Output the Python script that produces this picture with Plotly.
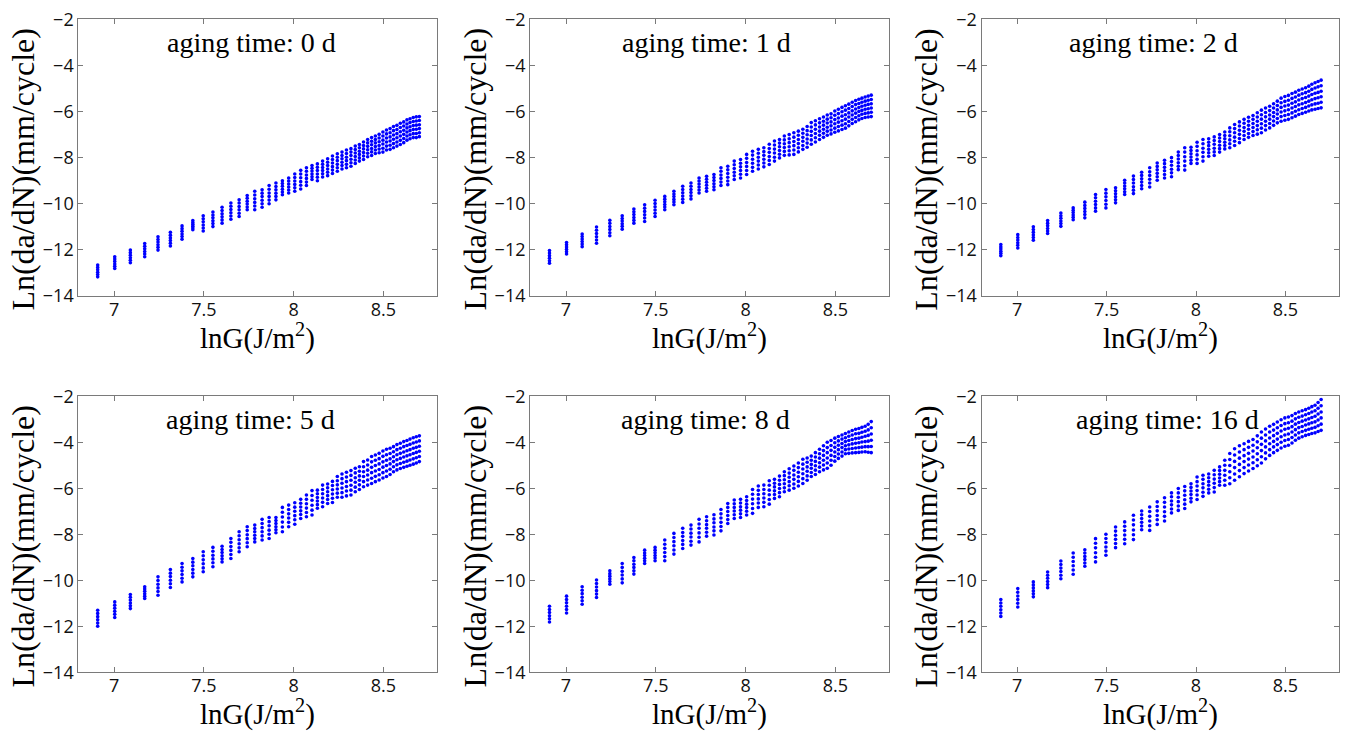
import plotly.graph_objects as go

# ---------------- data ----------------
lnG = [6.908, 7.003, 7.090, 7.170, 7.244, 7.313, 7.378, 7.438, 7.496, 7.550,
       7.601, 7.650, 7.696, 7.741, 7.783, 7.824, 7.863, 7.901, 7.937, 7.972,
       8.006, 8.039, 8.071, 8.102, 8.132, 8.161, 8.189, 8.216, 8.243, 8.269,
       8.294, 8.319, 8.343, 8.366, 8.389, 8.412, 8.434, 8.455, 8.476, 8.497,
       8.517, 8.537, 8.556, 8.575, 8.594, 8.613, 8.631, 8.648, 8.666, 8.683,
       8.700]

panel_titles = ["aging time: 0 d", "aging time: 1 d", "aging time: 2 d",
                "aging time: 5 d", "aging time: 8 d", "aging time: 16 d"]

y_0d = [
    [-12.66, -12.76, -12.86, -12.97, -13.07, -13.17],
    [-12.30, -12.40, -12.50, -12.61, -12.71, -12.81],
    [-12.01, -12.12, -12.23, -12.34, -12.45, -12.56],
    [-11.72, -11.84, -11.95, -12.07, -12.18, -12.30],
    [-11.43, -11.55, -11.66, -11.78, -11.89, -12.01],
    [-11.24, -11.36, -11.48, -11.59, -11.71, -11.83],
    [-10.96, -11.08, -11.19, -11.31, -11.42, -11.54],
    [-10.73, -10.81, -10.89, -10.97, -11.05, -11.13],
    [-10.52, -10.65, -10.78, -10.92, -11.05, -11.18],
    [-10.36, -10.49, -10.61, -10.74, -10.86, -10.99],
    [-10.15, -10.29, -10.43, -10.56, -10.70, -10.84],
    [-9.97, -10.11, -10.25, -10.39, -10.53, -10.67],
    [-9.83, -9.97, -10.12, -10.26, -10.41, -10.55],
    [-9.64, -9.76, -9.89, -10.01, -10.14, -10.26],
    [-9.46, -9.62, -9.78, -9.94, -10.10, -10.26],
    [-9.39, -9.54, -9.69, -9.85, -10.00, -10.15],
    [-9.21, -9.37, -9.53, -9.68, -9.84, -10.00],
    [-9.10, -9.25, -9.39, -9.54, -9.68, -9.83],
    [-9.00, -9.12, -9.24, -9.37, -9.49, -9.61],
    [-8.88, -9.01, -9.14, -9.27, -9.40, -9.53],
    [-8.71, -8.86, -9.01, -9.16, -9.31, -9.46],
    [-8.55, -8.71, -8.87, -9.04, -9.20, -9.36],
    [-8.44, -8.59, -8.75, -8.90, -9.06, -9.21],
    [-8.34, -8.46, -8.58, -8.71, -8.83, -8.95],
    [-8.27, -8.42, -8.56, -8.71, -8.85, -9.00],
    [-8.15, -8.29, -8.43, -8.56, -8.70, -8.84],
    [-8.05, -8.20, -8.34, -8.49, -8.63, -8.78],
    [-7.93, -8.08, -8.23, -8.39, -8.54, -8.69],
    [-7.83, -7.98, -8.13, -8.29, -8.44, -8.59],
    [-7.76, -7.91, -8.05, -8.20, -8.34, -8.49],
    [-7.67, -7.82, -7.98, -8.13, -8.29, -8.44],
    [-7.61, -7.76, -7.91, -8.07, -8.22, -8.37],
    [-7.50, -7.65, -7.80, -7.95, -8.10, -8.25],
    [-7.43, -7.57, -7.72, -7.86, -8.01, -8.15],
    [-7.32, -7.47, -7.62, -7.78, -7.93, -8.08],
    [-7.21, -7.36, -7.51, -7.66, -7.81, -7.96],
    [-7.13, -7.29, -7.44, -7.60, -7.75, -7.91],
    [-7.06, -7.21, -7.36, -7.52, -7.67, -7.82],
    [-6.99, -7.15, -7.31, -7.47, -7.63, -7.79],
    [-6.89, -7.06, -7.24, -7.41, -7.59, -7.76],
    [-6.80, -6.97, -7.15, -7.32, -7.50, -7.67],
    [-6.74, -6.92, -7.10, -7.28, -7.46, -7.64],
    [-6.65, -6.83, -7.02, -7.20, -7.39, -7.57],
    [-6.60, -6.78, -6.96, -7.14, -7.32, -7.50],
    [-6.51, -6.69, -6.88, -7.06, -7.25, -7.43],
    [-6.45, -6.63, -6.81, -6.99, -7.17, -7.35],
    [-6.36, -6.54, -6.71, -6.89, -7.06, -7.24],
    [-6.31, -6.48, -6.66, -6.83, -7.01, -7.18],
    [-6.26, -6.43, -6.61, -6.78, -6.96, -7.13],
    [-6.23, -6.41, -6.59, -6.77, -6.95, -7.13],
    [-6.22, -6.39, -6.57, -6.74, -6.92, -7.09],
]

y_1d = [
    [-12.03, -12.14, -12.25, -12.36, -12.47, -12.58],
    [-11.68, -11.78, -11.88, -11.98, -12.08, -12.18],
    [-11.31, -11.42, -11.53, -11.64, -11.75, -11.86],
    [-11.01, -11.15, -11.29, -11.43, -11.57, -11.71],
    [-10.72, -10.85, -10.99, -11.12, -11.26, -11.39],
    [-10.52, -10.64, -10.75, -10.87, -10.98, -11.10],
    [-10.23, -10.35, -10.47, -10.60, -10.72, -10.84],
    [-10.04, -10.19, -10.33, -10.48, -10.62, -10.77],
    [-9.85, -9.99, -10.13, -10.27, -10.41, -10.55],
    [-9.68, -9.80, -9.91, -10.03, -10.14, -10.26],
    [-9.46, -9.58, -9.69, -9.81, -9.92, -10.04],
    [-9.24, -9.38, -9.52, -9.66, -9.80, -9.94],
    [-9.10, -9.24, -9.38, -9.51, -9.65, -9.79],
    [-8.88, -9.01, -9.14, -9.27, -9.40, -9.53],
    [-8.81, -8.94, -9.07, -9.20, -9.33, -9.46],
    [-8.73, -8.86, -8.99, -9.13, -9.26, -9.39],
    [-8.44, -8.59, -8.75, -8.90, -9.06, -9.21],
    [-8.37, -8.53, -8.69, -8.85, -9.01, -9.17],
    [-8.15, -8.31, -8.47, -8.63, -8.79, -8.95],
    [-8.08, -8.24, -8.40, -8.56, -8.72, -8.88],
    [-7.86, -8.03, -8.21, -8.38, -8.56, -8.73],
    [-7.72, -7.89, -8.07, -8.24, -8.42, -8.59],
    [-7.64, -7.81, -7.98, -8.15, -8.32, -8.49],
    [-7.57, -7.74, -7.90, -8.07, -8.23, -8.40],
    [-7.42, -7.60, -7.77, -7.95, -8.12, -8.30],
    [-7.28, -7.45, -7.63, -7.80, -7.98, -8.15],
    [-7.21, -7.37, -7.53, -7.69, -7.85, -8.01],
    [-7.06, -7.23, -7.40, -7.56, -7.73, -7.90],
    [-7.00, -7.18, -7.35, -7.53, -7.70, -7.88],
    [-6.92, -7.11, -7.30, -7.48, -7.67, -7.86],
    [-6.85, -7.03, -7.21, -7.39, -7.57, -7.75],
    [-6.77, -6.94, -7.12, -7.29, -7.47, -7.64],
    [-6.65, -6.83, -7.01, -7.19, -7.37, -7.55],
    [-6.48, -6.67, -6.86, -7.04, -7.23, -7.42],
    [-6.40, -6.58, -6.77, -6.95, -7.14, -7.32],
    [-6.31, -6.49, -6.67, -6.85, -7.03, -7.21],
    [-6.24, -6.42, -6.59, -6.77, -6.94, -7.12],
    [-6.15, -6.33, -6.50, -6.68, -6.85, -7.03],
    [-6.10, -6.27, -6.45, -6.62, -6.80, -6.97],
    [-5.98, -6.16, -6.35, -6.53, -6.72, -6.90],
    [-5.90, -6.09, -6.28, -6.46, -6.65, -6.84],
    [-5.82, -6.01, -6.20, -6.40, -6.59, -6.78],
    [-5.75, -5.94, -6.14, -6.33, -6.53, -6.72],
    [-5.68, -5.87, -6.06, -6.24, -6.43, -6.62],
    [-5.60, -5.78, -5.97, -6.15, -6.34, -6.52],
    [-5.52, -5.70, -5.89, -6.07, -6.26, -6.44],
    [-5.47, -5.65, -5.83, -6.00, -6.18, -6.36],
    [-5.42, -5.60, -5.77, -5.95, -6.12, -6.30],
    [-5.37, -5.55, -5.73, -5.90, -6.08, -6.26],
    [-5.33, -5.51, -5.69, -5.88, -6.06, -6.24],
    [-5.29, -5.48, -5.66, -5.85, -6.03, -6.22],
]

y_2d = [
    [-11.77, -11.87, -11.96, -12.06, -12.15, -12.25],
    [-11.34, -11.46, -11.57, -11.69, -11.80, -11.92],
    [-11.00, -11.12, -11.23, -11.35, -11.46, -11.58],
    [-10.73, -10.84, -10.95, -11.07, -11.18, -11.29],
    [-10.40, -10.52, -10.63, -10.75, -10.86, -10.98],
    [-10.18, -10.28, -10.38, -10.49, -10.59, -10.69],
    [-9.93, -10.07, -10.20, -10.34, -10.47, -10.61],
    [-9.60, -9.74, -9.89, -10.03, -10.18, -10.32],
    [-9.38, -9.54, -9.70, -9.86, -10.02, -10.18],
    [-9.31, -9.44, -9.57, -9.70, -9.83, -9.96],
    [-8.98, -9.10, -9.23, -9.35, -9.48, -9.60],
    [-8.80, -8.95, -9.10, -9.26, -9.41, -9.56],
    [-8.63, -8.77, -8.92, -9.06, -9.21, -9.35],
    [-8.44, -8.61, -8.77, -8.94, -9.10, -9.27],
    [-8.23, -8.38, -8.53, -8.68, -8.83, -8.98],
    [-8.11, -8.26, -8.42, -8.57, -8.73, -8.88],
    [-8.00, -8.17, -8.33, -8.50, -8.66, -8.83],
    [-7.76, -7.91, -8.06, -8.22, -8.37, -8.52],
    [-7.57, -7.76, -7.96, -8.15, -8.35, -8.54],
    [-7.55, -7.69, -7.83, -7.97, -8.11, -8.25],
    [-7.33, -7.51, -7.70, -7.88, -8.07, -8.25],
    [-7.21, -7.40, -7.59, -7.77, -7.96, -8.15],
    [-7.18, -7.33, -7.48, -7.64, -7.79, -7.94],
    [-7.10, -7.26, -7.42, -7.59, -7.75, -7.91],
    [-7.00, -7.15, -7.30, -7.46, -7.61, -7.76],
    [-6.89, -7.04, -7.18, -7.33, -7.47, -7.62],
    [-6.71, -6.88, -7.05, -7.23, -7.40, -7.57],
    [-6.56, -6.74, -6.92, -7.11, -7.29, -7.47],
    [-6.45, -6.63, -6.81, -6.99, -7.17, -7.35],
    [-6.34, -6.51, -6.69, -6.86, -7.04, -7.21],
    [-6.25, -6.42, -6.60, -6.77, -6.95, -7.12],
    [-6.17, -6.34, -6.52, -6.69, -6.87, -7.04],
    [-6.05, -6.24, -6.42, -6.61, -6.79, -6.98],
    [-5.94, -6.14, -6.33, -6.53, -6.72, -6.92],
    [-5.85, -6.04, -6.23, -6.42, -6.61, -6.80],
    [-5.77, -5.96, -6.15, -6.33, -6.52, -6.71],
    [-5.66, -5.85, -6.04, -6.22, -6.41, -6.60],
    [-5.55, -5.74, -5.93, -6.11, -6.30, -6.49],
    [-5.42, -5.62, -5.82, -6.02, -6.22, -6.42],
    [-5.35, -5.56, -5.76, -5.97, -6.17, -6.38],
    [-5.30, -5.51, -5.72, -5.92, -6.13, -6.34],
    [-5.22, -5.43, -5.64, -5.85, -6.06, -6.27],
    [-5.16, -5.37, -5.58, -5.78, -5.99, -6.20],
    [-5.08, -5.29, -5.50, -5.71, -5.92, -6.13],
    [-5.02, -5.23, -5.44, -5.66, -5.87, -6.08],
    [-4.97, -5.18, -5.39, -5.61, -5.82, -6.03],
    [-4.90, -5.12, -5.33, -5.55, -5.76, -5.98],
    [-4.82, -5.04, -5.26, -5.49, -5.71, -5.93],
    [-4.75, -4.98, -5.21, -5.44, -5.67, -5.90],
    [-4.70, -4.93, -5.17, -5.40, -5.64, -5.87],
    [-4.64, -4.88, -5.12, -5.36, -5.60, -5.84],
]

y_5d = [
    [-11.30, -11.44, -11.58, -11.72, -11.86, -12.00],
    [-10.94, -11.08, -11.21, -11.35, -11.48, -11.62],
    [-10.62, -10.74, -10.86, -10.99, -11.11, -11.23],
    [-10.28, -10.38, -10.48, -10.59, -10.69, -10.79],
    [-9.85, -10.01, -10.17, -10.33, -10.49, -10.65],
    [-9.53, -9.69, -9.84, -10.00, -10.15, -10.31],
    [-9.27, -9.43, -9.59, -9.75, -9.91, -10.07],
    [-9.05, -9.21, -9.37, -9.53, -9.69, -9.85],
    [-8.76, -8.93, -9.11, -9.28, -9.46, -9.63],
    [-8.57, -8.74, -8.91, -9.07, -9.24, -9.41],
    [-8.52, -8.66, -8.79, -8.93, -9.06, -9.20],
    [-8.18, -8.35, -8.53, -8.70, -8.88, -9.05],
    [-7.89, -8.06, -8.24, -8.41, -8.59, -8.76],
    [-7.67, -7.84, -8.02, -8.19, -8.37, -8.54],
    [-7.60, -7.75, -7.89, -8.04, -8.18, -8.33],
    [-7.35, -7.53, -7.71, -7.89, -8.07, -8.25],
    [-7.27, -7.45, -7.63, -7.82, -8.00, -8.18],
    [-7.27, -7.40, -7.53, -7.67, -7.80, -7.93],
    [-6.83, -7.04, -7.25, -7.47, -7.68, -7.89],
    [-6.73, -6.92, -7.11, -7.29, -7.48, -7.67],
    [-6.63, -6.82, -7.00, -7.19, -7.37, -7.56],
    [-6.48, -6.65, -6.81, -6.98, -7.14, -7.31],
    [-6.29, -6.48, -6.67, -6.86, -7.05, -7.24],
    [-6.10, -6.31, -6.52, -6.74, -6.95, -7.16],
    [-6.08, -6.24, -6.40, -6.55, -6.71, -6.87],
    [-5.86, -6.05, -6.24, -6.42, -6.61, -6.80],
    [-5.81, -5.98, -6.15, -6.32, -6.49, -6.66],
    [-5.70, -5.88, -6.06, -6.25, -6.43, -6.62],
    [-5.49, -5.67, -5.85, -6.03, -6.21, -6.39],
    [-5.38, -5.58, -5.78, -5.99, -6.19, -6.39],
    [-5.30, -5.51, -5.71, -5.92, -6.12, -6.33],
    [-5.23, -5.44, -5.65, -5.87, -6.08, -6.29],
    [-5.13, -5.33, -5.54, -5.74, -5.95, -6.15],
    [-5.06, -5.26, -5.46, -5.65, -5.85, -6.05],
    [-4.84, -5.06, -5.28, -5.49, -5.71, -5.93],
    [-4.77, -4.99, -5.21, -5.42, -5.64, -5.86],
    [-4.62, -4.85, -5.09, -5.32, -5.56, -5.79],
    [-4.55, -4.78, -5.01, -5.25, -5.48, -5.71],
    [-4.48, -4.71, -4.94, -5.18, -5.41, -5.64],
    [-4.38, -4.61, -4.85, -5.08, -5.32, -5.55],
    [-4.30, -4.54, -4.78, -5.01, -5.25, -5.49],
    [-4.26, -4.49, -4.72, -4.94, -5.17, -5.40],
    [-4.19, -4.41, -4.63, -4.84, -5.06, -5.28],
    [-4.10, -4.32, -4.54, -4.76, -4.98, -5.20],
    [-4.04, -4.26, -4.48, -4.70, -4.92, -5.14],
    [-3.97, -4.19, -4.42, -4.64, -4.87, -5.09],
    [-3.92, -4.14, -4.37, -4.59, -4.82, -5.04],
    [-3.86, -4.09, -4.32, -4.54, -4.77, -5.00],
    [-3.80, -4.03, -4.26, -4.49, -4.72, -4.95],
    [-3.76, -3.99, -4.22, -4.44, -4.67, -4.90],
    [-3.72, -3.94, -4.17, -4.39, -4.62, -4.84],
]

y_8d = [
    [-11.13, -11.27, -11.40, -11.54, -11.67, -11.81],
    [-10.69, -10.84, -10.98, -11.13, -11.27, -11.42],
    [-10.28, -10.43, -10.58, -10.74, -10.89, -11.04],
    [-9.99, -10.14, -10.29, -10.45, -10.60, -10.75],
    [-9.59, -9.71, -9.82, -9.94, -10.05, -10.17],
    [-9.27, -9.44, -9.61, -9.77, -9.94, -10.11],
    [-9.01, -9.15, -9.30, -9.44, -9.59, -9.73],
    [-8.69, -8.81, -8.92, -9.04, -9.15, -9.27],
    [-8.57, -8.69, -8.80, -8.92, -9.03, -9.15],
    [-8.25, -8.43, -8.61, -8.79, -8.97, -9.15],
    [-7.96, -8.14, -8.32, -8.50, -8.68, -8.86],
    [-7.74, -7.92, -8.09, -8.27, -8.44, -8.62],
    [-7.60, -7.77, -7.95, -8.12, -8.30, -8.47],
    [-7.35, -7.55, -7.74, -7.94, -8.13, -8.33],
    [-7.24, -7.41, -7.58, -7.74, -7.91, -8.08],
    [-7.15, -7.33, -7.50, -7.68, -7.85, -8.03],
    [-6.92, -7.11, -7.29, -7.48, -7.66, -7.85],
    [-6.66, -6.83, -7.01, -7.18, -7.36, -7.53],
    [-6.51, -6.67, -6.83, -6.99, -7.15, -7.31],
    [-6.48, -6.64, -6.80, -6.95, -7.11, -7.27],
    [-6.37, -6.53, -6.69, -6.84, -7.00, -7.16],
    [-6.05, -6.26, -6.47, -6.67, -6.88, -7.09],
    [-5.90, -6.09, -6.27, -6.46, -6.64, -6.83],
    [-5.86, -6.05, -6.24, -6.42, -6.61, -6.80],
    [-5.67, -5.87, -6.08, -6.28, -6.49, -6.69],
    [-5.61, -5.78, -5.94, -6.11, -6.27, -6.44],
    [-5.47, -5.65, -5.83, -6.01, -6.19, -6.37],
    [-5.28, -5.45, -5.63, -5.80, -5.98, -6.15],
    [-5.15, -5.34, -5.52, -5.71, -5.89, -6.08],
    [-5.03, -5.22, -5.42, -5.61, -5.81, -6.00],
    [-4.90, -5.10, -5.30, -5.50, -5.70, -5.90],
    [-4.74, -4.95, -5.16, -5.37, -5.58, -5.79],
    [-4.68, -4.87, -5.07, -5.26, -5.46, -5.65],
    [-4.60, -4.78, -4.96, -5.13, -5.31, -5.49],
    [-4.45, -4.64, -4.83, -5.02, -5.21, -5.40],
    [-4.30, -4.50, -4.69, -4.89, -5.08, -5.28],
    [-4.15, -4.36, -4.57, -4.78, -4.99, -5.20],
    [-4.00, -4.23, -4.45, -4.68, -4.90, -5.13],
    [-3.92, -4.14, -4.35, -4.57, -4.78, -5.00],
    [-3.82, -4.02, -4.22, -4.42, -4.62, -4.82],
    [-3.75, -3.94, -4.13, -4.32, -4.51, -4.70],
    [-3.68, -3.86, -4.05, -4.23, -4.42, -4.60],
    [-3.62, -3.80, -3.97, -4.15, -4.32, -4.50],
    [-3.55, -3.74, -3.92, -4.11, -4.29, -4.48],
    [-3.49, -3.68, -3.88, -4.07, -4.27, -4.46],
    [-3.43, -3.63, -3.84, -4.04, -4.25, -4.45],
    [-3.40, -3.61, -3.82, -4.02, -4.23, -4.44],
    [-3.35, -3.56, -3.78, -3.99, -4.21, -4.42],
    [-3.30, -3.52, -3.74, -3.97, -4.19, -4.41],
    [-3.22, -3.46, -3.70, -3.95, -4.19, -4.43],
    [-3.10, -3.37, -3.64, -3.91, -4.18, -4.45],
]

y_16d = [
    [-10.84, -10.99, -11.13, -11.28, -11.42, -11.57],
    [-10.36, -10.52, -10.68, -10.84, -11.00, -11.16],
    [-10.07, -10.20, -10.33, -10.46, -10.59, -10.72],
    [-9.64, -9.78, -9.91, -10.05, -10.18, -10.32],
    [-9.16, -9.31, -9.47, -9.62, -9.78, -9.93],
    [-8.81, -9.00, -9.18, -9.37, -9.55, -9.74],
    [-8.67, -8.81, -8.96, -9.10, -9.25, -9.39],
    [-8.19, -8.39, -8.59, -8.80, -9.00, -9.20],
    [-8.00, -8.18, -8.36, -8.55, -8.73, -8.91],
    [-7.68, -7.86, -8.04, -8.22, -8.40, -8.58],
    [-7.46, -7.65, -7.84, -8.03, -8.22, -8.41],
    [-7.17, -7.38, -7.59, -7.81, -8.02, -8.23],
    [-6.99, -7.15, -7.31, -7.48, -7.64, -7.80],
    [-6.81, -7.01, -7.22, -7.42, -7.63, -7.83],
    [-6.59, -6.79, -6.98, -7.18, -7.37, -7.57],
    [-6.41, -6.61, -6.81, -7.02, -7.22, -7.42],
    [-6.20, -6.37, -6.55, -6.72, -6.90, -7.07],
    [-6.01, -6.20, -6.39, -6.58, -6.77, -6.96],
    [-5.92, -6.11, -6.30, -6.50, -6.69, -6.88],
    [-5.80, -5.96, -6.12, -6.27, -6.43, -6.59],
    [-5.51, -5.71, -5.90, -6.10, -6.29, -6.49],
    [-5.43, -5.61, -5.80, -5.98, -6.17, -6.35],
    [-5.38, -5.54, -5.71, -5.87, -6.04, -6.20],
    [-5.22, -5.41, -5.60, -5.78, -5.97, -6.16],
    [-5.07, -5.23, -5.39, -5.55, -5.71, -5.87],
    [-4.78, -5.00, -5.22, -5.43, -5.65, -5.87],
    [-4.49, -4.75, -5.01, -5.28, -5.54, -5.80],
    [-4.28, -4.55, -4.83, -5.10, -5.38, -5.65],
    [-4.15, -4.42, -4.69, -4.96, -5.23, -5.50],
    [-4.06, -4.32, -4.58, -4.84, -5.10, -5.36],
    [-3.96, -4.22, -4.48, -4.73, -4.99, -5.25],
    [-3.88, -4.13, -4.38, -4.64, -4.89, -5.14],
    [-3.72, -3.98, -4.24, -4.50, -4.76, -5.02],
    [-3.55, -3.82, -4.09, -4.36, -4.63, -4.90],
    [-3.42, -3.68, -3.94, -4.20, -4.46, -4.72],
    [-3.30, -3.55, -3.81, -4.06, -4.32, -4.57],
    [-3.22, -3.47, -3.71, -3.96, -4.20, -4.45],
    [-3.12, -3.37, -3.61, -3.86, -4.10, -4.35],
    [-3.02, -3.27, -3.51, -3.76, -4.00, -4.25],
    [-2.94, -3.19, -3.43, -3.68, -3.92, -4.17],
    [-2.90, -3.15, -3.39, -3.64, -3.88, -4.13],
    [-2.84, -3.08, -3.32, -3.55, -3.79, -4.03],
    [-2.75, -2.98, -3.21, -3.45, -3.68, -3.91],
    [-2.68, -2.91, -3.14, -3.36, -3.59, -3.82],
    [-2.63, -2.86, -3.08, -3.31, -3.53, -3.76],
    [-2.58, -2.80, -3.03, -3.25, -3.48, -3.70],
    [-2.52, -2.75, -2.98, -3.20, -3.43, -3.66],
    [-2.45, -2.68, -2.92, -3.15, -3.39, -3.62],
    [-2.39, -2.63, -2.87, -3.11, -3.35, -3.59],
    [-2.27, -2.52, -2.77, -3.03, -3.28, -3.53],
    [-2.14, -2.41, -2.68, -2.94, -3.21, -3.48],
]

x_tickvals = [7, 7.5, 8, 8.5]
x_ticktext = ["7", "7.5", "8", "8.5"]
y_tickvals = [-14, -12, -10, -8, -6, -4, -2]
y_ticktext = ["\u221214", "\u221212", "\u221210", "\u22128", "\u22126", "\u22124", "\u22122"]

x_title = "lnG(J/m<sup>2</sup>)"
y_title = "Ln(da/dN)(mm/cycle)"

panels = [y_0d, y_1d, y_2d, y_5d, y_8d, y_16d]

# ---------------- layout geometry ----------------
W, H = 1346, 738
col_px = [(78.3, 437.3), (530.1, 889.2), (981.5, 1339.0)]
row_px = [(19.3, 296.0), (396.3, 672.3)]
title_x = [7.767, 7.78, 7.76, 7.762, 7.778, 7.843]

fig = go.Figure()
annotations = []
layout_axes = {}
frame_color = "#7a7a7a"
tick_font = dict(family="Open Sans, Arial, sans-serif", size=18, color="#111111")
serif = "Liberation Serif, Times New Roman, serif"

for i, ys in enumerate(panels):
    r, c = divmod(i, 3)
    k = "" if i == 0 else str(i + 1)
    xs_flat, ys_flat = [], []
    for xv, col in zip(lnG, ys):
        for yv in col:
            xs_flat.append(xv)
            ys_flat.append(yv)
    fig.add_trace(go.Scatter(
        x=xs_flat, y=ys_flat, mode="markers",
        marker=dict(color="#0000ff", size=3.6, line=dict(width=0)),
        xaxis="x" + k, yaxis="y" + k, showlegend=False, cliponaxis=False,
        hoverinfo="skip"))

    x0, x1 = col_px[c]
    y0, y1 = row_px[r]
    layout_axes["xaxis" + k] = dict(
        domain=[x0 / W, x1 / W], anchor="y" + k, range=[6.8, 8.8],
        tickmode="array", tickvals=x_tickvals, ticktext=x_ticktext,
        ticks="inside", ticklen=5, tickcolor=frame_color, tickwidth=1,
        showline=True, linecolor=frame_color, linewidth=1, mirror="ticks",
        showgrid=False, zeroline=False, tickfont=tick_font, fixedrange=True,
        ticklabelstandoff=-3)
    layout_axes["yaxis" + k] = dict(
        domain=[1 - y1 / H, 1 - y0 / H], anchor="x" + k, range=[-14, -2],
        tickmode="array", tickvals=y_tickvals, ticktext=y_ticktext,
        ticks="inside", ticklen=5, tickcolor=frame_color, tickwidth=1,
        showline=True, linecolor=frame_color, linewidth=1, mirror="ticks",
        showgrid=False, zeroline=False, tickfont=tick_font, fixedrange=True)

    # panel caption inside the axes
    annotations.append(dict(
        x=title_x[i], y=-3.0, xref="x" + k, yref="y" + k,
        text=panel_titles[i], showarrow=False, xanchor="center", yanchor="middle",
        font=dict(family=serif, size=28, color="#000000")))
    # x-axis title
    annotations.append(dict(
        x=(x0 + x1) / 2 / W, y=1 - (y1 + 40) / H, xref="paper", yref="paper",
        text=x_title, showarrow=False, xanchor="center", yanchor="middle",
        font=dict(family=serif, size=29, color="#000000")))
    # y-axis title
    annotations.append(dict(
        x=(x0 - 55) / W, y=1 - (y0 + 150) / H, xref="paper", yref="paper",
        text=y_title, showarrow=False, textangle=-90,
        xanchor="center", yanchor="middle",
        font=dict(family=serif, size=32, color="#000000")))

fig.update_layout(
    width=W, height=H, margin=dict(l=0, r=0, t=0, b=0, autoexpand=False),
    paper_bgcolor="white", plot_bgcolor="white",
    annotations=annotations, **layout_axes)

fig.write_html(
    "out.html",
    config={"displayModeBar": False},
    post_script="document.body.style.margin='0px';document.body.style.padding='0px';")
